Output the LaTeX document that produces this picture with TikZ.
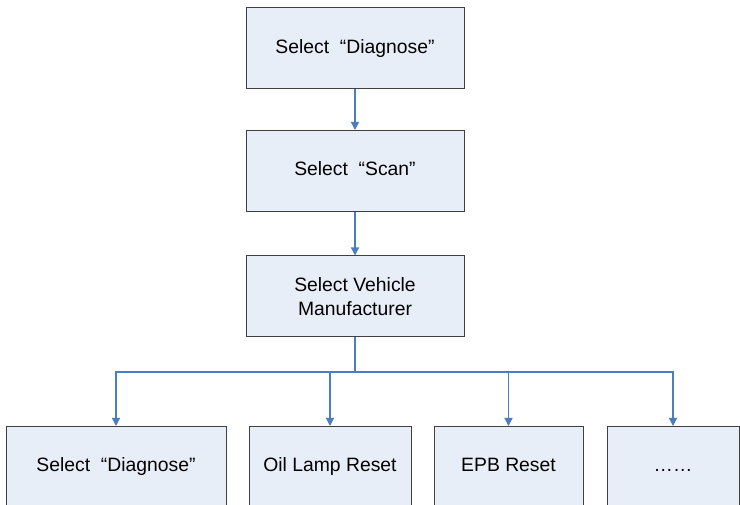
\documentclass[tikz,border=0pt]{standalone}
\usepackage{fontspec}
\setmainfont{Liberation Sans}
\usetikzlibrary{arrows.meta}
\definecolor{boxfill}{RGB}{232,238,248}
\definecolor{linkblue}{RGB}{74,126,193}
\tikzset{
	stepbox/.style={draw=black!75,fill=boxfill,line width=0.75pt,minimum height=60.75pt,
		align=center,inner sep=0pt,font=\fontsize{14.5}{17.5}\selectfont},
	oneline/.style={text height=10.5pt,text depth=3pt},
	wire/.style={draw=linkblue,line width=0.9pt},
	link/.style={wire,-{Triangle[width=6pt,length=6pt]}},
}
\begin{document}
\begin{tikzpicture}[x=0.75pt,y=-0.75pt]
		\useasboundingbox (0,0) rectangle (740,505);
		% main chain
		\node[stepbox,oneline,minimum width=163.5pt] (diag) at (355,48.5) {Select \ “Diagnose”};
		\node[stepbox,oneline,minimum width=163.5pt] (scan) at (355,171) {Select \ “Scan”};
		\node[stepbox,minimum width=163.5pt] (make) at (355,296.5) {Select Vehicle\\Manufacturer};
		% branches
		\node[stepbox,oneline,minimum width=165pt] (subdiag) at (116,467) {Select \ “Diagnose”};
		\node[stepbox,oneline,minimum width=121.5pt] (oil) at (330,467) {Oil Lamp Reset};
		\node[stepbox,oneline,minimum width=111.75pt] (epb) at (508.5,467) {EPB Reset};
		\node[stepbox,oneline,minimum width=99pt] (more) at (673,467) {……};
		\coordinate (bus) at (355,372);
		\draw[link] (diag) -- (scan);
		\draw[link] (scan) -- (make);
		\draw[wire] (make) -- (bus);
		\draw[link] (bus) -| (subdiag.north);
		\draw[link] (bus) -| (oil.north);
		\draw[link] (bus) -| (epb.north);
		\draw[link] (bus) -| (more.north);
	\end{tikzpicture}
\end{document}
